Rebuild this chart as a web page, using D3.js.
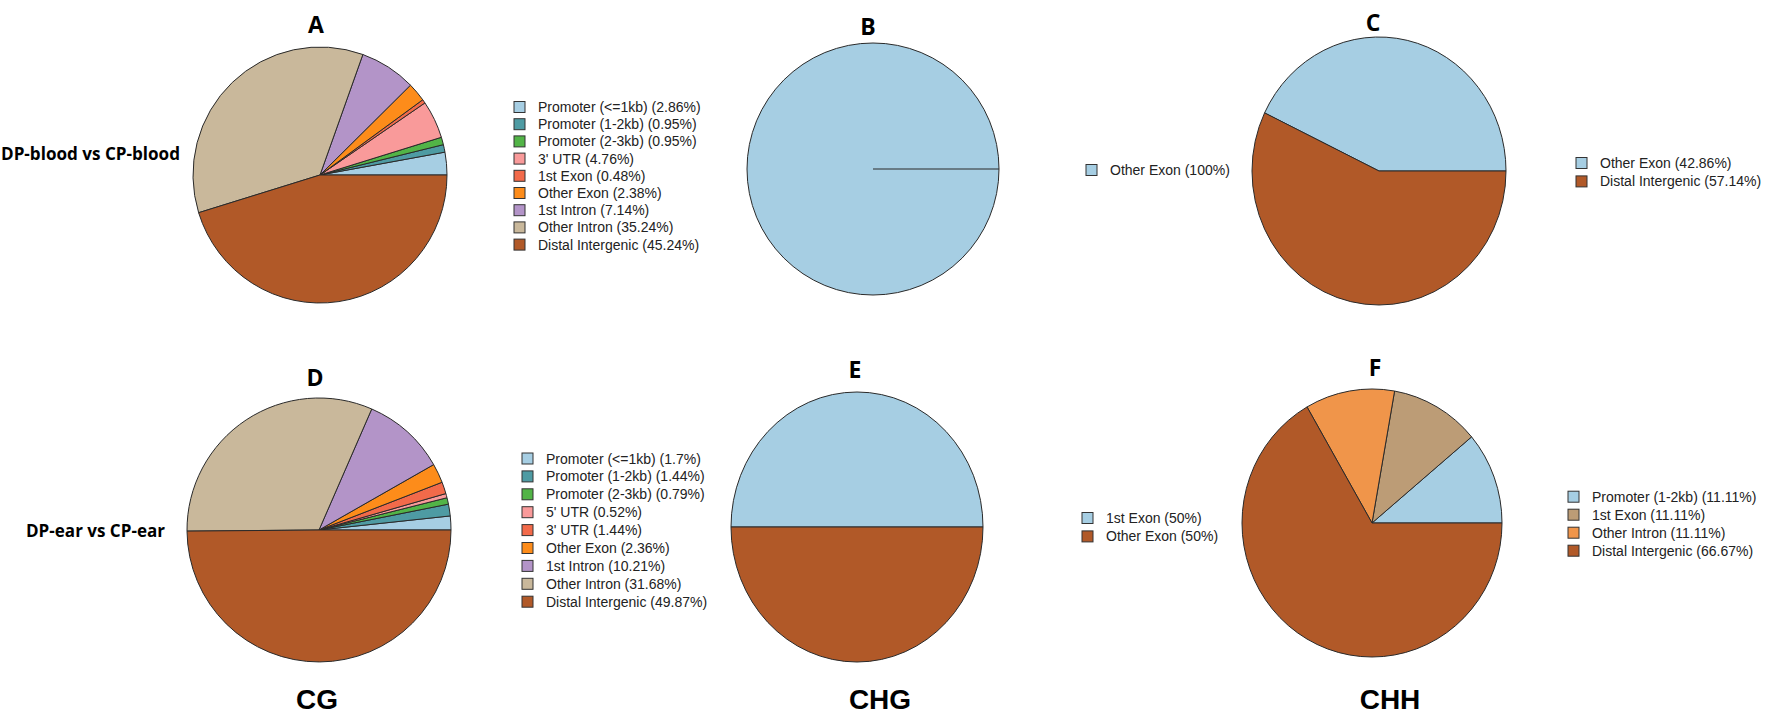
<!DOCTYPE html>
<html>
<head>
<meta charset="utf-8">
<script src="https://cdn.jsdelivr.net/npm/d3@7"></script>
<style>
  body { margin: 0; background: #fff; }
  svg { display: block; }
</style>
</head>
<body>
<script>
// ---- data: genomic feature distribution per panel ----
var namesA = ["Promoter (<=1kb)", "Promoter (1-2kb)", "Promoter (2-3kb)", "3' UTR", "1st Exon",
              "Other Exon", "1st Intron", "Other Intron", "Distal Intergenic"];
var valuesA = [2.86, 0.95, 0.95, 4.76, 0.48, 2.38, 7.14, 35.24, 45.24];

var namesB = ["Other Exon"];
var valuesB = [100];

var namesC = ["Other Exon", "Distal Intergenic"];
var valuesC = [42.86, 57.14];

var namesD = ["Promoter (<=1kb)", "Promoter (1-2kb)", "Promoter (2-3kb)", "5' UTR", "3' UTR",
              "Other Exon", "1st Intron", "Other Intron", "Distal Intergenic"];
var valuesD = [1.7, 1.44, 0.79, 0.52, 1.44, 2.36, 10.21, 31.68, 49.87];

var namesE = ["1st Exon", "Other Exon"];
var valuesE = [50, 50];

var namesF = ["Promoter (1-2kb)", "1st Exon", "Other Intron", "Distal Intergenic"];
var valuesF = [11.11, 11.11, 11.11, 66.67];

var rowLabels = ["DP-blood vs CP-blood", "DP-ear vs CP-ear"];
var colLabels = ["CG", "CHG", "CHH"];

// ---- palettes ----
var pal9 = ["#A6CEE3", "#4E9BA3", "#52B447", "#F99A9A", "#F26A4A",
            "#FD8C1A", "#B394C8", "#C9B89B", "#B15928"];
var pal2 = ["#A6CEE3", "#B15928"];
var pal1 = ["#A6CEE3"];
var pal4 = ["#A6CEE3", "#BC9C76", "#F0954A", "#B15928"];

var W = 1772, H = 716, R = 100;

var panels = [
  {id: "A", names: namesA, values: valuesA, colors: pal9, cx: 320, cy: 175, rx: 127, ry: 128,
   lx: 514, ly: 107, dy: 17.2, tx: 316, ty: 33},
  {id: "B", names: namesB, values: valuesB, colors: pal1, cx: 873, cy: 169, rx: 126, ry: 126,
   lx: 1086, ly: 170, dy: 18, tx: 868, ty: 35},
  {id: "C", names: namesC, values: valuesC, colors: pal2, cx: 1379, cy: 171, rx: 127, ry: 134,
   lx: 1576, ly: 163, dy: 18.4, tx: 1373, ty: 31},
  {id: "D", names: namesD, values: valuesD, colors: pal9, cx: 319, cy: 530, rx: 132, ry: 132,
   lx: 522, ly: 458.5, dy: 17.9, tx: 315, ty: 386},
  {id: "E", names: namesE, values: valuesE, colors: pal2, cx: 857, cy: 527, rx: 126, ry: 135,
   lx: 1082, ly: 518, dy: 18.4, tx: 855, ty: 378},
  {id: "F", names: namesF, values: valuesF, colors: pal4, cx: 1372, cy: 523, rx: 130, ry: 134,
   lx: 1568, ly: 496.7, dy: 18, tx: 1375, ty: 376}
];

var svg = d3.select("body").append("svg")
    .attr("width", W)
    .attr("height", H);

// pies start at 3 o'clock and run counter-clockwise
var pie = d3.pie()
    .sort(null)
    .startAngle(Math.PI / 2)
    .endAngle(Math.PI / 2 - 2 * Math.PI);

var arc = d3.arc().innerRadius(0).outerRadius(R);

panels.forEach(function(p) {
  var arcs = pie(p.values);

  var g = svg.append("g")
      .attr("transform", "translate(" + p.cx + "," + p.cy + ") scale(" + (p.rx / R) + "," + (p.ry / R) + ")");

  g.selectAll("path")
      .data(arcs)
      .enter().append("path")
      .attr("d", arc)
      .attr("fill", function(d, i) { return p.colors[i]; })
      .attr("stroke", "#2a2a2a")
      .attr("stroke-width", 1)
      .attr("vector-effect", "non-scaling-stroke");

  // a single full slice still shows its start edge
  if (arcs.length === 1) {
    var a = arcs[0].startAngle;
    g.append("line")
        .attr("x1", 0).attr("y1", 0)
        .attr("x2", R * Math.sin(a)).attr("y2", -R * Math.cos(a))
        .attr("stroke", "#2a2a2a")
        .attr("stroke-width", 1)
        .attr("vector-effect", "non-scaling-stroke");
  }

  // panel letter
  svg.append("text")
      .attr("x", p.tx)
      .attr("y", p.ty)
      .attr("text-anchor", "middle")
      .style("font-family", "'Open Sans', sans-serif")
      .style("font-weight", "700")
      .style("font-size", "23px")
      .text(p.id);

  // legend
  var leg = svg.append("g").selectAll("g")
      .data(p.names)
      .enter().append("g")
      .attr("transform", function(d, i) { return "translate(" + p.lx + "," + (p.ly + i * p.dy) + ")"; });

  leg.append("rect")
      .attr("x", 0).attr("y", -5.5)
      .attr("width", 11).attr("height", 11)
      .attr("fill", function(d, i) { return p.colors[i]; })
      .attr("stroke", "#333")
      .attr("stroke-width", 1);

  leg.append("text")
      .attr("x", 24)
      .attr("y", 5)
      .style("font-family", "'Liberation Sans', Arial, sans-serif")
      .style("font-size", "14px")
      .style("fill", "#222")
      .text(function(d, i) { return d + " (" + p.values[i] + "%)"; });
});

// row labels on the left
var rowPos = [{x: 1, y: 159.5, w: 179}, {x: 26, y: 537, w: 139}];
rowLabels.forEach(function(t, i) {
  svg.append("text")
      .attr("x", rowPos[i].x)
      .attr("y", rowPos[i].y)
      .attr("textLength", rowPos[i].w)
      .attr("lengthAdjust", "spacingAndGlyphs")
      .style("font-family", "'Open Sans', sans-serif")
      .style("font-weight", "700")
      .style("font-size", "17px")
      .text(t);
});

// context labels at the bottom
var colX = [317, 880, 1390];
colLabels.forEach(function(t, i) {
  svg.append("text")
      .attr("x", colX[i])
      .attr("y", 709)
      .attr("text-anchor", "middle")
      .style("font-family", "'Liberation Sans', Arial, sans-serif")
      .style("font-weight", "700")
      .style("font-size", "28px")
      .text(t);
});
</script>
</body>
</html>
